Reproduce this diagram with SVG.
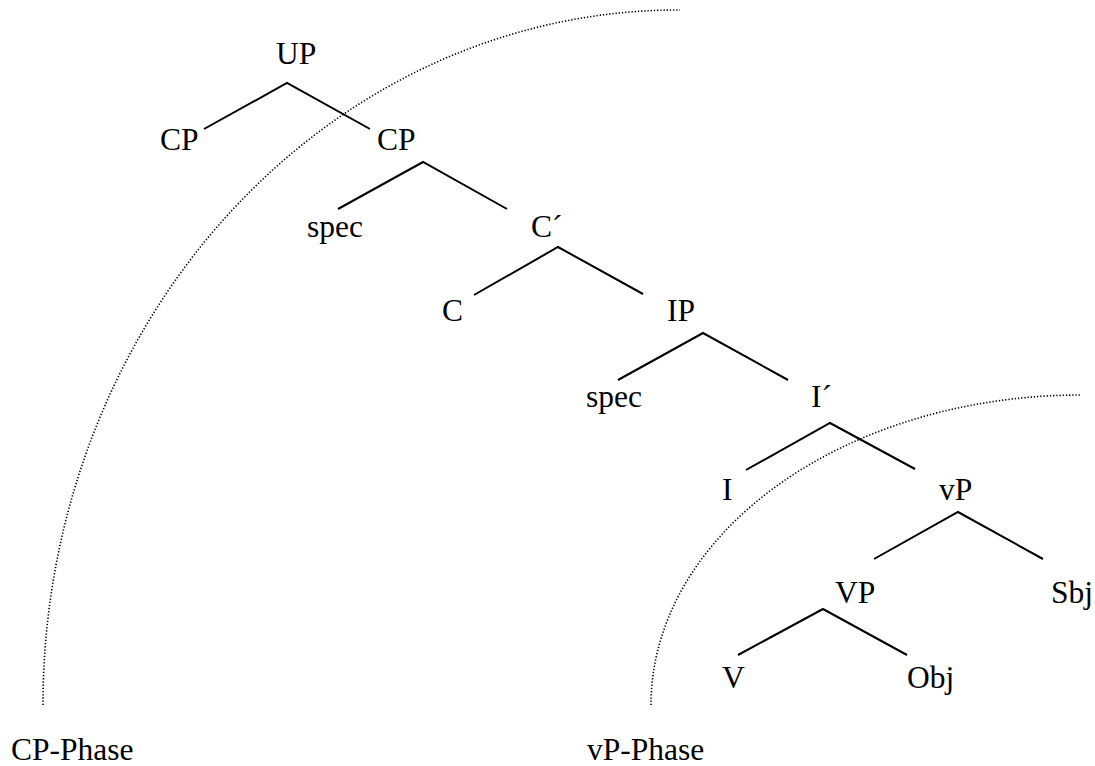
<svg xmlns="http://www.w3.org/2000/svg" width="1095" height="766" viewBox="0 0 1095 766">
<style>
text{font-family:"Liberation Serif","Times New Roman",serif;font-size:31.5px;fill:#000}
.br{fill:none;stroke:#000;stroke-width:2}
.arc{fill:none;stroke:#000;stroke-width:1.6;stroke-dasharray:1.3 1.9}
</style>
<rect width="1095" height="766" fill="#fff"/>
<g id="phases">
<path class="arc" d="M 43 705 A 635 695 0 0 1 680 10"/>
<path class="arc" d="M 651 705 A 430 310 0 0 1 1081 395"/>
</g>
<g id="connectors">
<polyline class="br" points="204,129 287,83 370,129"/>
<polyline class="br" points="338,209 423,162 507,209"/>
<polyline class="br" points="474,295 558,247 643,294"/>
<polyline class="br" points="618,380 703,333 788,380"/>
<polyline class="br" points="746,470 830,423 915,469"/>
<polyline class="br" points="874,559 958,512 1043,559"/>
<polyline class="br" points="738,655 823,609 907,655"/>
</g>
<g id="n-UP"><text x="276" y="64">UP</text></g>
<g id="n-CP1"><text x="160" y="150">CP</text></g>
<g id="n-CP2"><text x="377" y="150">CP</text></g>
<g id="n-spec1"><text x="307" y="237">spec</text></g>
<g id="n-C1"><text x="531" y="237">C´</text></g>
<g id="n-C"><text x="442" y="321">C</text></g>
<g id="n-IP"><text x="667" y="321">IP</text></g>
<g id="n-spec2"><text x="586" y="407">spec</text></g>
<g id="n-I1"><text x="811" y="407">I´</text></g>
<g id="n-I"><text x="722" y="500">I</text></g>
<g id="n-vP"><text x="939" y="500">vP</text></g>
<g id="n-VP"><text x="835" y="603">VP</text></g>
<g id="n-Sbj"><text x="1051" y="603">Sbj</text></g>
<g id="n-V"><text x="722" y="688">V</text></g>
<g id="n-Obj"><text x="907" y="688">Obj</text></g>
<g id="l-CPPhase"><text x="11" y="760">CP-Phase</text></g>
<g id="l-vPPhase"><text x="587" y="760">vP-Phase</text></g>
</svg>
